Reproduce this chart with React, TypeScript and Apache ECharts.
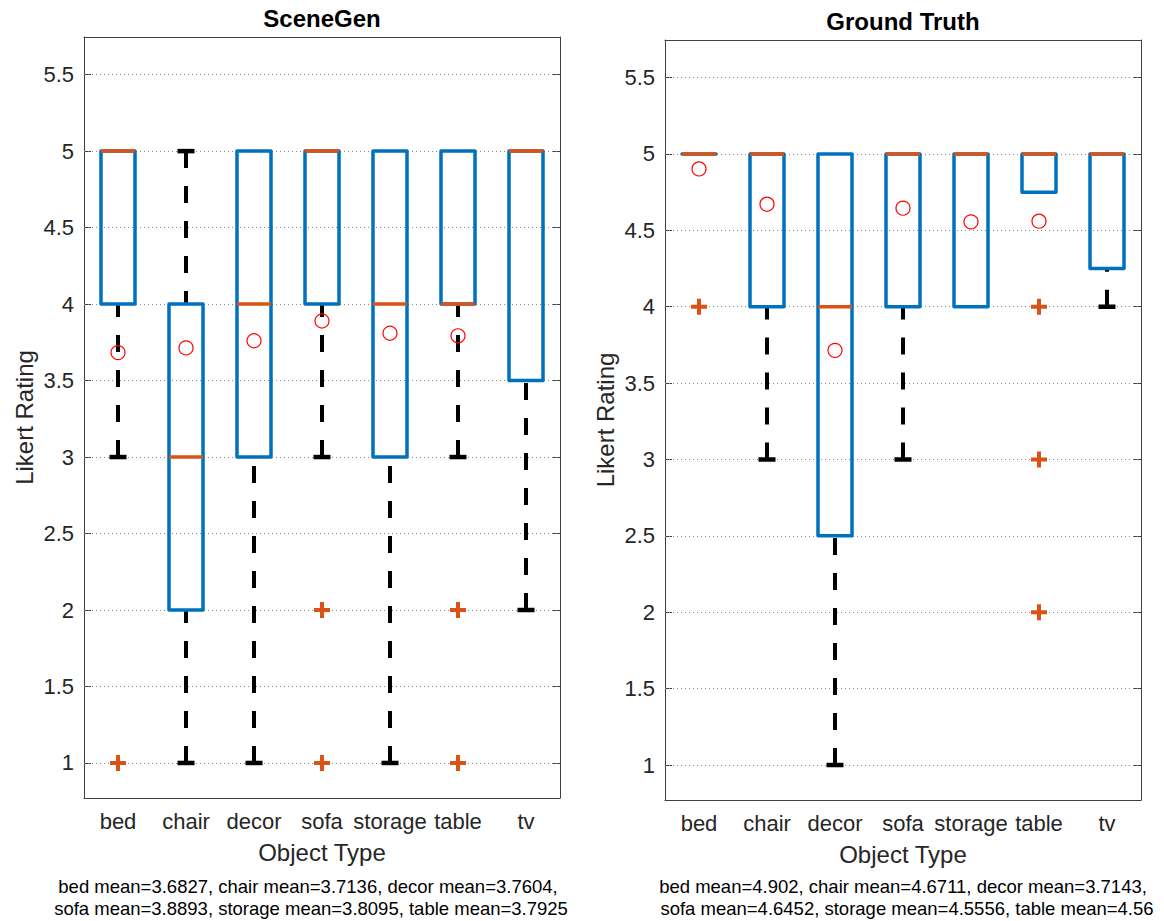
import React, { useEffect, useRef } from "react";
import * as echarts from "echarts";

const categories = ["bed", "chair", "decor", "sofa", "storage", "table", "tv"];
const yTickValues = [1, 1.5, 2, 2.5, 3, 3.5, 4, 4.5, 5, 5.5];

// SceneGen
const sgQ1 = [4, 2, 3, 4, 3, 4, 3.5];
const sgMedian = [5, 3, 4, 5, 4, 4, 5];
const sgQ3 = [5, 4, 5, 5, 5, 5, 5];
const sgWhiskerLow = [3, 1, 1, 3, 1, 3, 2];
const sgWhiskerHigh = [5, 5, 5, 5, 5, 5, 5];
const sgOutliers = [
  [0, 1],
  [3, 2],
  [3, 1],
  [5, 2],
  [5, 1],
];
const sgMeans = [3.6827, 3.7136, 3.7604, 3.8893, 3.8095, 3.7925];

// Ground Truth
const gtQ1 = [5, 4, 2.5, 4, 4, 4.75, 4.25];
const gtMedian = [5, 5, 4, 5, 5, 5, 5];
const gtQ3 = [5, 5, 5, 5, 5, 5, 5];
const gtWhiskerLow = [5, 3, 1, 3, 4, 4.75, 4];
const gtWhiskerHigh = [5, 5, 5, 5, 5, 5, 5];
const gtOutliers = [
  [0, 4],
  [5, 4],
  [5, 3],
  [5, 2],
];
const gtMeans = [4.902, 4.6711, 3.7143, 4.6452, 4.5556, 4.56];

const titles = ["SceneGen", "Ground Truth"];
const xName = "Object Type";
const yName = "Likert Rating";
const sgCaption = [
  "bed mean=3.6827, chair mean=3.7136, decor mean=3.7604,",
  "sofa mean=3.8893, storage mean=3.8095, table mean=3.7925",
];
const gtCaption = [
  "bed mean=4.902, chair mean=4.6711, decor mean=3.7143,",
  "sofa mean=4.6452, storage mean=4.5556, table mean=4.56",
];

const Y_MIN = 0.771;
const Y_MAX = 5.746;

const FONT = "'Liberation Sans', Arial, Helvetica, sans-serif";
const BLUE = "#0072BD";
const ORANGE = "#D95319";
const AXIS = "#404040";
const TXT = "#262626";

const PLUS = "path://M6,0H10V6H16V10H10V16H6V10H0V6H6Z";

function boxData(q1: number[], med: number[], q3: number[], lo: number[], hi: number[]) {
  return categories.map((_, i) => [i, q1[i], med[i], q3[i], lo[i], hi[i]]);
}

function renderBox(params: any, api: any) {
  const i = api.value(0);
  const q1 = api.value(1);
  const med = api.value(2);
  const q3 = api.value(3);
  const lo = api.value(4);
  const hi = api.value(5);
  const [x, yq1] = api.coord([i, q1]);
  const yq3 = api.coord([i, q3])[1];
  const ymed = api.coord([i, med])[1];
  const ylo = api.coord([i, lo])[1];
  const yhi = api.coord([i, hi])[1];
  const band = api.size([1, 0])[0];
  const hw = band * 0.25;
  const cw = 8.5;
  const children: any[] = [];
  const dash = { stroke: "#000", lineWidth: 4, lineDash: [17, 18], fill: null };
  const solid = { stroke: "#000", lineWidth: 4.5, fill: null };
  if (lo < q1) {
    children.push({ type: "line", shape: { x1: x, y1: ylo, x2: x, y2: yq1 }, style: dash });
    children.push({ type: "line", shape: { x1: x - cw, y1: ylo, x2: x + cw, y2: ylo }, style: solid });
  }
  if (hi > q3) {
    children.push({ type: "line", shape: { x1: x, y1: yhi, x2: x, y2: yq3 }, style: dash });
    children.push({ type: "line", shape: { x1: x - cw, y1: yhi, x2: x + cw, y2: yhi }, style: solid });
  }
  children.push({
    type: "rect",
    shape: { x: x - hw, y: yq3, width: 2 * hw, height: yq1 - yq3 },
    style: { fill: "none", stroke: BLUE, lineWidth: 3.5, lineJoin: "round" },
  });
  children.push({
    type: "line",
    shape: { x1: x - hw, y1: ymed, x2: x + hw, y2: ymed },
    style: { stroke: ORANGE, lineWidth: 3.5, fill: null },
  });
  return { type: "group", children };
}

function makeAxes(gridIndex: number) {
  const xBottom = {
    type: "category",
    gridIndex,
    data: categories,
    position: "bottom",
    boundaryGap: true,
    axisLine: { lineStyle: { color: AXIS, width: 1 } },
    axisTick: { inside: true, alignWithLabel: true, length: 7, lineStyle: { color: AXIS } },
    axisLabel: { color: TXT, fontSize: 22, fontFamily: FONT, margin: 12, interval: 0 },
    splitLine: { show: false },
  };
  const xTop = {
    type: "category",
    gridIndex,
    data: categories,
    position: "top",
    boundaryGap: true,
    axisLine: { lineStyle: { color: AXIS, width: 1 } },
    axisTick: { inside: true, alignWithLabel: true, length: 7, lineStyle: { color: AXIS } },
    axisLabel: { show: false },
    splitLine: { show: false },
  };
  const yLeft = {
    type: "value",
    gridIndex,
    position: "left",
    min: Y_MIN,
    max: Y_MAX,
    axisLine: { show: true, lineStyle: { color: AXIS, width: 1 } },
    axisTick: { show: true, inside: true, length: 7, lineStyle: { color: AXIS }, customValues: yTickValues },
    axisLabel: {
      color: TXT,
      fontSize: 22,
      fontFamily: FONT,
      margin: 10,
      customValues: yTickValues,
    },
    splitLine: { show: false },
  };
  const yRight = {
    type: "value",
    gridIndex,
    position: "right",
    min: Y_MIN,
    max: Y_MAX,
    axisLine: { show: true, lineStyle: { color: AXIS, width: 1 } },
    axisTick: { show: true, inside: true, length: 7, lineStyle: { color: AXIS }, customValues: yTickValues },
    axisLabel: { show: false },
    splitLine: { show: false },
  };
  return { x: [xBottom, xTop], y: [yLeft, yRight] };
}

function panelSeries(
  axisOffset: number,
  q1: number[],
  med: number[],
  q3: number[],
  lo: number[],
  hi: number[],
  outliers: number[][],
  means: number[]
) {
  return [
    {
      type: "line",
      xAxisIndex: axisOffset,
      yAxisIndex: axisOffset,
      data: [],
      z: 1,
      silent: true,
      markLine: {
        silent: true,
        z: 1,
        symbol: ["none", "none"],
        label: { show: false },
        lineStyle: { color: "#8a8a8a", type: [1, 3], width: 1 },
        data: yTickValues.map((v) => ({ yAxis: v })),
      },
    },
    {
      type: "custom",
      xAxisIndex: axisOffset,
      yAxisIndex: axisOffset,
      renderItem: renderBox,
      data: boxData(q1, med, q3, lo, hi),
      z: 3,
      silent: true,
    },
    {
      type: "scatter",
      xAxisIndex: axisOffset,
      yAxisIndex: axisOffset,
      data: outliers,
      symbol: PLUS,
      symbolSize: 16,
      itemStyle: { color: ORANGE, opacity: 1 },
      z: 4,
      silent: true,
    },
    {
      type: "scatter",
      xAxisIndex: axisOffset,
      yAxisIndex: axisOffset,
      data: means.map((m, i) => [i, m]),
      symbol: "circle",
      symbolSize: 14,
      itemStyle: { color: "rgba(0,0,0,0)", borderColor: "#FF0000", borderWidth: 1.2, opacity: 1 },
      z: 5,
      silent: true,
    },
  ];
}

export default function App() {
  const ref = useRef<HTMLDivElement>(null);
  useEffect(() => {
    if (!ref.current) return;
    const chart = echarts.init(ref.current, undefined, { renderer: "svg" });
    const a0 = makeAxes(0);
    const a1 = makeAxes(1);
    const textStyle = (size: number, bold = false, color = TXT) => ({
      fontSize: size,
      fontFamily: FONT,
      fontWeight: bold ? "bold" : "normal",
      fill: color,
    });
    const panels = [
      { cx: 322, top: 37, bottom: 798, yx: 24, caption: sgCaption, capC: [308, 311] },
      { cx: 903, top: 40, bottom: 800, yx: 605, caption: gtCaption, capC: [903, 907] },
    ];
    const graphics: any[] = [];
    panels.forEach((p, k) => {
      graphics.push({
        type: "text",
        x: p.cx,
        y: p.top - 19,
        style: { text: titles[k], textAlign: "center", textVerticalAlign: "middle", ...textStyle(24, true, "#000") },
      });
      graphics.push({
        type: "text",
        x: p.cx,
        y: p.bottom + 54,
        style: { text: xName, textAlign: "center", textVerticalAlign: "middle", ...textStyle(24) },
      });
      graphics.push({
        type: "text",
        x: p.yx,
        y: (p.top + p.bottom) / 2,
        rotation: Math.PI / 2,
        style: { text: yName, textAlign: "center", textVerticalAlign: "middle", ...textStyle(24) },
      });
      graphics.push({
        type: "text",
        x: p.capC[0],
        y: 886,
        style: { text: p.caption[0], textAlign: "center", textVerticalAlign: "middle", ...textStyle(18.5, false, "#000") },
      });
      graphics.push({
        type: "text",
        x: p.capC[1],
        y: 908,
        style: { text: p.caption[1], textAlign: "center", textVerticalAlign: "middle", ...textStyle(18.5, false, "#000") },
      });
    });

    chart.setOption({
      animation: false,
      backgroundColor: "#ffffff",
      grid: [
        { left: 84, top: 37, width: 476, height: 761, containLabel: false },
        { left: 665, top: 40, width: 476, height: 760, containLabel: false },
      ],
      xAxis: [...a0.x, ...a1.x],
      yAxis: [...a0.y, ...a1.y],
      series: [
        ...panelSeries(0, sgQ1, sgMedian, sgQ3, sgWhiskerLow, sgWhiskerHigh, sgOutliers, sgMeans),
        ...panelSeries(2, gtQ1, gtMedian, gtQ3, gtWhiskerLow, gtWhiskerHigh, gtOutliers, gtMeans),
      ],
      graphic: graphics,
    });
    return () => chart.dispose();
  }, []);
  return (
    <div
      ref={ref}
      style={{ position: "fixed", left: 0, top: 0, width: 1164, height: 921, background: "#fff" }}
    />
  );
}
